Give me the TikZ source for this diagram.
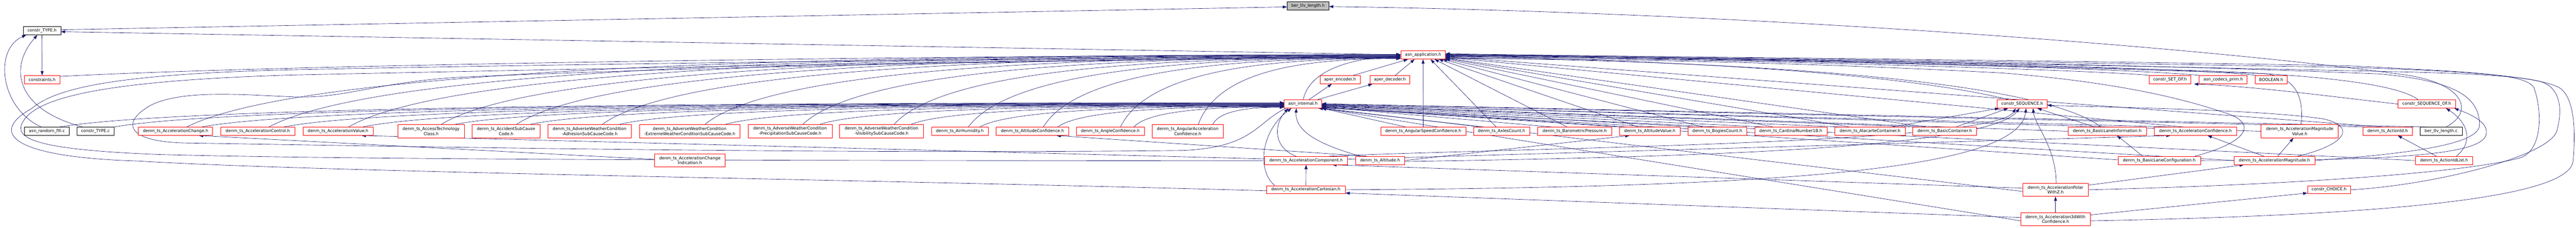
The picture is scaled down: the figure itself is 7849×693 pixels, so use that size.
\documentclass[tikz,border=0pt]{standalone}
\usepackage{fontspec}
\setmainfont{DejaVu Sans}
\usetikzlibrary{arrows.meta,calc}
\definecolor{eblue}{HTML}{191970}
\newcommand\nodefnt{\fontsize{12.6}{15}\selectfont}
\pgfdeclarelayer{bg}
\pgfsetlayers{bg,main}
\begin{document}
\begin{tikzpicture}[x=1pt,y=-1pt,
 nd/.style={draw=black,fill=white,line width=1.1pt,inner sep=0pt,minimum height=25pt,align=center,font=\nodefnt},
 nr/.style={nd,draw=red},
 bw/.style={minimum width=#1pt},
 tall/.style={minimum height=40pt},
 ed/.style={draw=eblue,line width=1pt,-{Triangle[length=13pt,width=9pt]}},
 hz/.style={to path={let \p1=(\tikztostart),\p2=(\tikztotarget) in .. controls ({\x1+0.1*(\x2-\x1)},{\y1+0.85*(\y2-\y1)}) and ({\x2-0.45*(\x2-\x1)},\y2) .. (\tikztotarget) \tikztonodes}}]
\useasboundingbox (0,0) rectangle (7849,693);
% ---------------- nodes
\node[nd,fill=gray!50,bw=127] (berh) at (3985.5,18) {ber\_tlv\_length.h};
\node[nd,bw=114] (ctypeh) at (128,93.5) {constr\_TYPE.h};
\node[nr,bw=107] (constraints) at (128.5,242.5) {constraints.h};
\node[nr,bw=136] (app) at (4336,167.5) {asn\_application.h};
\node[nr,bw=122] (aenc) at (4083,242.5) {aper\_encoder.h};
\node[nr,bw=122] (adec) at (4235,242.5) {aper\_decoder.h};
\node[nr,bw=128] (setof) at (6612,242.5) {constr\_SET\_OF.h};
\node[nr,bw=146] (prim) at (6774,242.5) {asn\_codecs\_prim.h};
\node[nr,bw=97] (bool) at (6920,242.5) {BOOLEAN.h};
\node[nr,bw=114] (int) at (3970,316.5) {asn\_internal.h};
\node[nr,bw=152] (seq) at (6161.5,316.5) {constr\_SEQUENCE.h};
\node[nr,bw=175] (seqof) at (7394,316.5) {constr\_SEQUENCE\_OF.h};
% row 6
\node[nd,bw=136] (rfill) at (143,399.5) {asn\_random\_fill.c};
\node[nd,bw=112] (ctypec) at (291,399.5) {constr\_TYPE.c};
\node[nr,bw=226] (achg) at (535,399.5) {denm\_ts\_AccelerationChange.h};
\node[nr,bw=225] (actl) at (785.5,399.5) {denm\_ts\_AccelerationControl.h};
\node[nr,bw=214] (aval) at (1030,399.5) {denm\_ts\_AccelerationValue.h};
\node[nr,tall,bw=203] (atc) at (1313.5,399.5) {denm\_ts\_AccessTechnology\\Class.h};
\node[nr,tall,bw=206] (asc) at (1542,399.5) {denm\_ts\_AccidentSubCause\\Code.h};
\node[nr,tall,bw=255] (awa) at (1796.5,399.5) {denm\_ts\_AdverseWeatherCondition\\-AdhesionSubCauseCode.h};
\node[nr,tall,bw=307] (awe) at (2101.5,399.5) {denm\_ts\_AdverseWeatherCondition\\-ExtremeWeatherConditionSubCauseCode.h};
\node[nr,tall,bw=255] (awp) at (2407.5,399.5) {denm\_ts\_AdverseWeatherCondition\\-PrecipitationSubCauseCode.h};
\node[nr,tall,bw=255] (awv) at (2686,399.5) {denm\_ts\_AdverseWeatherCondition\\-VisibilitySubCauseCode.h};
\node[nr,bw=173] (hum) at (2924.5,399.5) {denm\_ts\_AirHumidity.h};
\node[nr,bw=221] (altc) at (3146,399.5) {denm\_ts\_AltitudeConfidence.h};
\node[nr,bw=207] (angc) at (3383,399.5) {denm\_ts\_AngleConfidence.h};
\node[nr,tall,bw=216] (aacc) at (3619,399.5) {denm\_ts\_AngularAcceleration\\Confidence.h};
\node[nr,bw=259] (asp) at (4336.5,399.5) {denm\_ts\_AngularSpeedConfidence.h};
\node[nr,bw=171] (axl) at (4575,399.5) {denm\_ts\_AxlesCount.h};
\node[nr,bw=226] (baro) at (4798,399.5) {denm\_ts\_BarometricPressure.h};
\node[nr,bw=184] (altv) at (5027,399.5) {denm\_ts\_AltitudeValue.h};
\node[nr,bw=179] (bog) at (5232.5,399.5) {denm\_ts\_BogiesCount.h};
\node[nr,bw=220] (card) at (5456.5,399.5) {denm\_ts\_CardinalNumber1B.h};
\node[nr,bw=214] (alac) at (5698,399.5) {denm\_ts\_AlacarteContainer.h};
\node[nr,bw=195] (bcon) at (5925.5,399.5) {denm\_ts\_BasicContainer.h};
\node[nr,bw=239] (bli) at (6420.5,399.5) {denm\_ts\_BasicLaneInformation.h};
\node[nr,bw=251] (aconf) at (6689.5,399.5) {denm\_ts\_AccelerationConfidence.h};
\node[nr,tall,bw=235] (amv) at (7007,399.5) {denm\_ts\_AccelerationMagnitude\\Value.h};
\node[nr,bw=152] (aid) at (7275,399.5) {denm\_ts\_ActionId.h};
\node[nd,bw=128] (berc) at (7438,399.5) {ber\_tlv\_length.c};
% row 7
\node[nr,tall,bw=215] (aci) at (2102,488) {denm\_ts\_AccelerationChange\\Indication.h};
\node[nr,bw=253] (acomp) at (3979.5,488.5) {denm\_ts\_AccelerationComponent.h};
\node[nr,bw=148] (alt) at (4205,488.5) {denm\_ts\_Altitude.h};
\node[nr,bw=251] (blc) at (6579,488.5) {denm\_ts\_BasicLaneConfiguration.h};
\node[nr,bw=246] (amag) at (6930,488.5) {denm\_ts\_AccelerationMagnitude.h};
\node[nr,bw=174] (aidl) at (7447,488.5) {denm\_ts\_ActionIdList.h};
% row 8, 9
\node[nr,bw=240] (acart) at (3979,577.5) {denm\_ts\_AccelerationCartesian.h};
\node[nr,tall,bw=199] (apz) at (6263,577.5) {denm\_ts\_AccelerationPolar\\WithZ.h};
\node[nr,bw=131] (choice) at (7096.5,577.5) {constr\_CHOICE.h};
\node[nr,tall,bw=212] (a3d) at (6263,667) {denm\_ts\_Acceleration3dWith\\Confidence.h};
% ---------------- edges
\begin{pgfonlayer}{bg}
% top part
\draw[ed] ([yshift=3pt]ctypeh.east) -- ([yshift=-3pt]berh.west);
\draw[ed] ([yshift=1pt]app.west) -- ([yshift=-3pt]ctypeh.east);
\draw[ed] (ctypeh.south) -- (constraints.north);
\draw[ed] ([xshift=-17pt]rfill.north) .. controls (0,330) and (-20,150) .. ([xshift=-48pt]ctypeh.south);
\draw[ed] ([xshift=-39pt]ctypec.north) .. controls (40,330) and (30,200) .. ([xshift=-14pt]ctypeh.south);
\draw[ed] ([xshift=38pt]rfill.north) to[hz] ([yshift=4pt]int.west);
\draw[ed] ([xshift=56pt]ctypec.north) to[hz] ([yshift=3pt]int.west);
\draw[ed] ([yshift=10pt]constraints.east) .. controls (900,195) and (2800,170) .. ([yshift=2pt]app.west);
\draw[ed] ([xshift=18pt]int.north) -- ([xshift=-25pt]aenc.south);
\draw[ed] ([xshift=43pt]int.north) -- ([xshift=-53pt]adec.south);
\draw[ed] ([xshift=1pt]int.north) .. controls (3985,230) and (4080,178) .. ([yshift=-3pt]app.west);
\draw[ed] ([xshift=40pt]aenc.north) -- ([xshift=-46pt]app.south);
\draw[ed] ([xshift=16pt]adec.north) -- ([xshift=-26pt]app.south);
% left row-6 nodes
\draw[ed] ([xshift=34pt]achg.north) to[hz] ([yshift=1pt]app.west);
\draw[ed] ([xshift=79pt]achg.north) to[hz] ([yshift=2pt]int.west);
\draw[ed] ([xshift=34pt]actl.north) to[hz] ([yshift=0pt]app.west);
\draw[ed] ([xshift=79pt]actl.north) to[hz] ([yshift=1pt]int.west);
\draw[ed] ([xshift=32pt]aval.north) to[hz] ([yshift=-1pt]app.west);
\draw[ed] ([xshift=75pt]aval.north) to[hz] ([yshift=0pt]int.west);
\draw[ed] ([xshift=30pt]atc.north) to[hz] ([yshift=-2pt]app.west);
\draw[ed] ([xshift=71pt]atc.north) to[hz] ([yshift=-1pt]int.west);
\draw[ed] ([xshift=31pt]asc.north) to[hz] ([yshift=-3pt]app.west);
\draw[ed] ([xshift=72pt]asc.north) to[hz] ([yshift=-2pt]int.west);
\draw[ed] ([xshift=38pt]awa.north) to[hz] ([yshift=-4pt]app.west);
\draw[ed] ([xshift=89pt]awa.north) to[hz] ([yshift=-3pt]int.west);
\draw[ed] ([xshift=46pt]awe.north) to[hz] ([yshift=-5pt]app.west);
\draw[ed] ([xshift=107pt]awe.north) to[hz] ([yshift=-4pt]int.west);
\draw[ed] ([xshift=38pt]awp.north) to[hz] ([yshift=-6pt]app.west);
\draw[ed] ([xshift=89pt]awp.north) to[hz] ([yshift=-5pt]int.west);
\draw[ed] ([xshift=38pt]awv.north) to[hz] ([yshift=-7pt]app.west);
\draw[ed] ([xshift=89pt]awv.north) to[hz] ([yshift=-6pt]int.west);
\draw[ed] ([xshift=26pt]hum.north) to[hz] ([yshift=-8pt]app.west);
\draw[ed] ([xshift=61pt]hum.north) to[hz] ([yshift=-7pt]int.west);
\draw[ed] ([xshift=33pt]altc.north) to[hz] ([yshift=-9pt]app.west);
\draw[ed] ([xshift=77pt]altc.north) to[hz] ([yshift=-8pt]int.west);
\draw[ed] ([xshift=31pt]angc.north) to[hz] ([yshift=-10pt]app.west);
\draw[ed] ([xshift=72pt]angc.north) to[hz] ([yshift=-9pt]int.west);
\draw[ed] ([xshift=32pt]aacc.north) to[hz] ([yshift=-11pt]app.west);
\draw[ed] ([xshift=76pt]aacc.north) to[hz] ([yshift=-10pt]int.west);
% right row-6 nodes
\draw[ed] (asp.north) -- (app.south);
\draw[ed] ([xshift=-53pt]asp.north) -- (int.south east);
\draw[ed] ([xshift=-16pt]axl.north) -- ([xshift=23pt]app.south);
\draw[ed] ([xshift=-54pt]axl.north) -- ([xshift=-10pt]int.south east);
\draw[ed] ([xshift=-23pt]baro.north) -- ([xshift=35pt]app.south);
\draw[ed] ([xshift=-69pt]baro.north) -- ([yshift=-9pt]int.east);
\draw[ed] ([xshift=-35pt]altv.north) -- ([xshift=48pt]app.south);
\draw[ed] ([xshift=-70pt]altv.north) -- ([yshift=-8pt]int.east);
\draw[ed] ([xshift=-44pt]bog.north) -- ([xshift=60pt]app.south);
\draw[ed] ([xshift=-70pt]bog.north) -- ([yshift=-7pt]int.east);
\draw[ed] ([xshift=-54pt]card.north) -- ([yshift=-12pt]app.east);
\draw[ed] ([xshift=-81pt]card.north) -- ([yshift=-6pt]int.east);
\draw[ed] ([xshift=-62pt]alac.north) -- ([yshift=-10pt]app.east);
\draw[ed] ([xshift=-85pt]alac.north) -- ([yshift=-5pt]int.east);
\draw[ed] ([xshift=66pt]alac.north) -- ([xshift=-70pt]seq.south);
\draw[ed] ([xshift=-56pt]bcon.north) -- ([yshift=-9pt]app.east);
\draw[ed] ([xshift=-80pt]bcon.north) -- ([yshift=-4pt]int.east);
\draw[ed] ([xshift=34pt]bcon.north) -- ([xshift=-43pt]seq.south);
\draw[ed] ([xshift=-19pt]bli.north) .. controls (6250,270) and (5600,190) .. ([yshift=-8pt]app.east);
\draw[ed] ([xshift=-38pt]bli.north) -- ([xshift=46pt]seq.south);
\draw[ed] (bli.west) -- ([yshift=-3pt]int.east);
\draw[ed] ([xshift=-36pt]aconf.north) -- ([yshift=-7pt]app.east);
\draw[ed] ([xshift=-68pt]aconf.north) -- ([yshift=-2pt]int.east);
\draw[ed] ([xshift=4pt]amv.north) .. controls (7020,300) and (7000,235) .. (6900,224) .. controls (6000,195) and (5000,175) .. ([yshift=-6pt]app.east);
\draw[ed] (amv.west) -- ([yshift=-1pt]int.east);
\draw[ed] ([xshift=-14pt]aid.north) -- ([yshift=-5pt]app.east);
\draw[ed] ([xshift=-49pt]aid.north) -- ([yshift=0pt]int.east);
\draw[ed] ([xshift=-38pt]berc.north) -- ([yshift=1pt]int.east);
\draw[ed] ([xshift=15pt]berc.north) .. controls (7540,340) and (7510,255) .. (7330,228) .. controls (6600,130) and (5200,35) .. ([yshift=-2pt]berh.east);
% constr nodes
\draw[ed] ([xshift=-41pt]seq.north) .. controls (5950,260) and (5500,190) .. ([yshift=-4pt]app.east);
\draw[ed] ([xshift=-60pt]setof.north) .. controls (6400,215) and (5500,185) .. ([yshift=-3pt]app.east);
\draw[ed] ([xshift=-70pt]prim.north) .. controls (6500,210) and (5600,182) .. ([yshift=-2pt]app.east);
\draw[ed] ([xshift=-45pt]bool.north) .. controls (6700,208) and (5700,180) .. ([yshift=-1pt]app.east);
\draw[ed] (seqof.west) .. controls (7150,300) and (6900,265) .. ([xshift=73pt]setof.south);
\draw[ed] ([xshift=-26pt]seqof.north) .. controls (7300,250) and (7000,225) .. (6700,215) .. controls (5800,190) and (5000,172) .. (app.east);
% row 7 / 8 / 9
\draw[ed] ([yshift=3pt]aci.west) -- ([xshift=71pt]achg.south);
\draw[ed] ([yshift=5pt]acomp.west) -- ([xshift=72pt]aval.south);
\draw[ed] ([yshift=4pt]acomp.east) -- ([xshift=-76pt]aconf.south);
\draw[ed] ([xshift=-30pt]acomp.north) .. controls (3880,450) and (3880,380) .. ([xshift=-45pt]int.south);
\draw[ed] ([xshift=70pt]acomp.north) .. controls (4600,450) and (6080,440) .. ([xshift=-20pt]seq.south);
\draw[ed] ([yshift=-1pt]acomp.west) .. controls (3000,488) and (1200,490) .. (480,470) .. controls (100,455) and (40,420) .. (70,370) .. controls (110,300) and (300,245) .. (900,228) .. controls (2000,205) and (3300,180) .. ([yshift=-5pt]app.west);
\draw[ed] ([xshift=-40pt]alt.north) -- ([xshift=73pt]altc.south);
\draw[ed] (alt.east) -- ([xshift=-62pt]altv.south);
\draw[ed] ([xshift=-60pt]alt.north) .. controls (4020,440) and (3945,400) .. ([xshift=-20pt]int.south);
\draw[ed] ([yshift=-3pt]alt.east) .. controls (5000,480) and (6050,460) .. ([xshift=-8pt]seq.south);
\draw[ed] (acart.north) -- (acomp.south);
\draw[ed] ([xshift=-95pt]acart.north) .. controls (3830,520) and (3840,400) .. ([xshift=-35pt]int.south);
\draw[ed] (acart.east) .. controls (5400,570) and (6150,520) .. ([xshift=12pt]seq.south);
\draw[ed] ([yshift=-3pt]acart.west) .. controls (2600,545) and (1000,525) .. (420,490) .. controls (20,478) and (-30,400) .. (97,330) .. controls (170,268) and (350,225) .. (900,212) .. controls (2000,190) and (3300,176) .. ([yshift=-6pt]app.west);
\draw[ed] ([xshift=-52pt]int.south) .. controls (3830,370) and (3820,450) .. (3600,458) .. controls (2500,470) and (1200,445) .. (560,435) .. controls (380,430) and (370,370) .. (460,320) .. controls (560,270) and (760,290) .. (900,295) .. controls (1050,300) and (1150,250) .. (1400,235) .. controls (2200,200) and (3300,182) .. ([yshift=-8pt]app.west);
\draw[ed] ([xshift=-50pt]blc.north) -- ([xshift=30pt]bli.south);
\draw[ed] ([yshift=2pt]blc.west) -- ([yshift=-10pt]int.east);
\draw[ed] ([xshift=108pt]blc.north) .. controls (6860,430) and (6880,370) .. (6769,340) .. controls (6650,300) and (6450,250) .. (6100,222) .. controls (5500,190) and (4900,178) .. ([yshift=-11pt]app.east);
\draw[ed] (blc.east) .. controls (7200,488) and (7560,480) .. (7575,410) .. controls (7585,370) and (7520,345) .. ([xshift=-4pt]seqof.south east);
\draw[ed] ([xshift=-32pt]amag.north) -- ([xshift=37pt]aconf.south);
\draw[ed] ([xshift=10pt]amag.north) -- ([xshift=-19pt]amv.south);
\draw[ed] ([xshift=71pt]amag.north) .. controls (7150,440) and (7180,385) .. (7080,362) .. controls (6900,335) and (6500,328) .. ([yshift=-4pt]seq.east);
\draw[ed] (amag.east) .. controls (7300,470) and (7555,445) .. (7555,380) .. controls (7555,290) and (7470,245) .. (7250,225) .. controls (6400,190) and (5300,178) .. ([yshift=1pt]app.east);
\draw[ed] (amag.west) -- ([yshift=-11pt]int.east);
\draw[ed] ([xshift=-23pt]aidl.north) -- ([xshift=31pt]aid.south);
\draw[ed] ([xshift=37pt]aidl.north) .. controls (7530,440) and (7530,380) .. ([xshift=59pt]seqof.south);
\draw[ed] (aidl.west) -- ([yshift=-12pt]int.east);
\draw[ed] ([yshift=14pt]apz.east) -- ([xshift=-93pt]amag.south);
\draw[ed] ([yshift=5pt]apz.west) -- ([xshift=80pt]acomp.south);
\draw[ed] ([xshift=2pt]apz.north) .. controls (6265,450) and (6200,380) .. ([xshift=33pt]seq.south);
\draw[ed] ([yshift=-5pt]apz.west) -- ([yshift=-12.5pt]int.east);
\draw[ed] (apz.east) .. controls (6900,565) and (7500,530) .. (7680,480) .. controls (7750,455) and (7745,330) .. (7720,265) .. controls (7690,225) and (7550,220) .. (7150,200) .. controls (6000,180) and (5000,172) .. ([yshift=2pt]app.east);
\draw[ed] (a3d.north) -- (apz.south);
\draw[ed] ([yshift=5pt]a3d.west) -- ([yshift=-10pt]acart.east);
\draw[ed] ([yshift=13pt]a3d.east) -- ([yshift=-10pt]choice.west);
\draw[ed] ([yshift=-5pt]a3d.west) -- ([yshift=-13pt]int.east);
\draw[ed] ([yshift=-5pt]a3d.east) .. controls (7300,655) and (7830,600) .. (7840,490) .. controls (7848,400) and (7845,300) .. (7800,268) .. controls (7740,232) and (7500,215) .. (7150,205) .. controls (6000,185) and (5000,172) .. ([yshift=4pt]app.east);
\draw[ed] (choice.east) .. controls (7400,565) and (7760,480) .. (7790,400) .. controls (7810,330) and (7800,265) .. (7740,248) .. controls (7650,225) and (7400,220) .. (7150,215) .. controls (6000,190) and (5000,175) .. ([yshift=3pt]app.east);
\end{pgfonlayer}
\end{tikzpicture}
\end{document}
